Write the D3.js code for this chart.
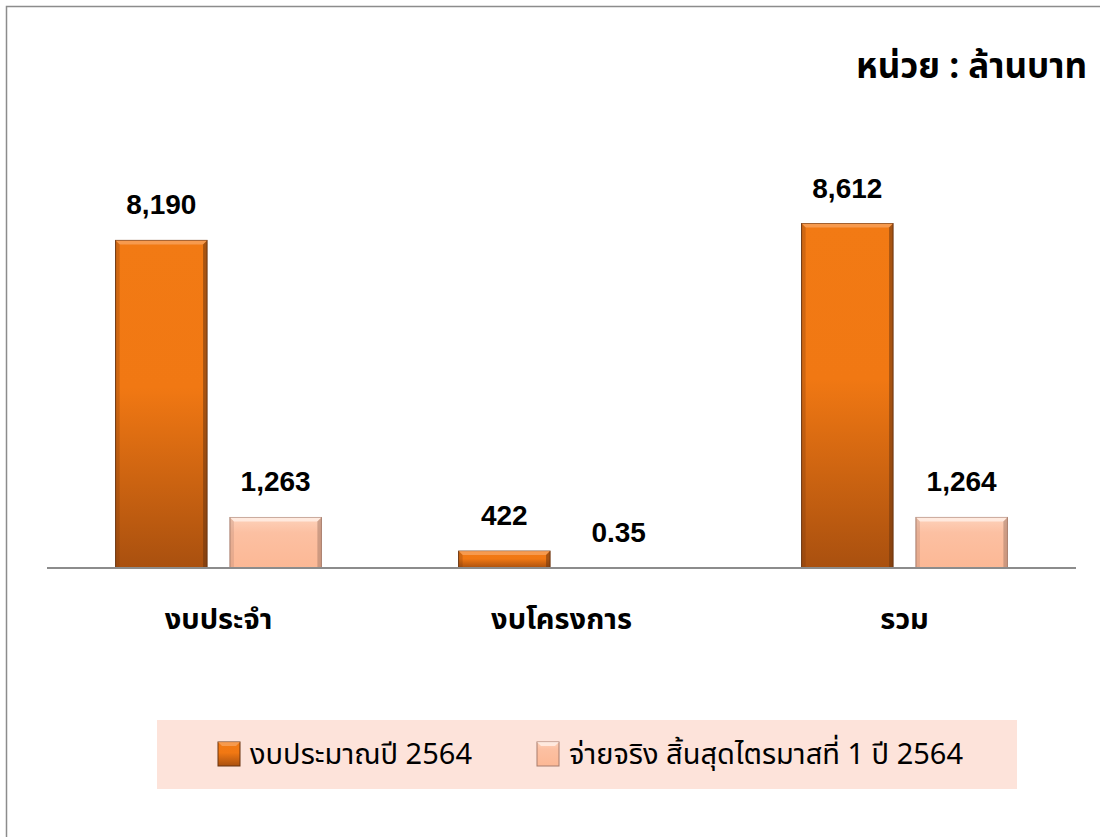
<!DOCTYPE html>
<head>
    <meta charset="utf-8">
    <script src="https://cdn.jsdelivr.net/npm/d3@7"></script>
    <style>
        body { margin: 0; background: white; }
        text { font-family: "Noto Sans Thai", "Liberation Sans", "Noto Sans", sans-serif; }
    </style>
</head>
<body>
<script>

    var categories = ["งบประจำ", "งบโครงการ", "รวม"];
    var seriesNames = ["งบประมาณปี 2564", "จ่ายจริง สิ้นสุดไตรมาสที่ 1 ปี 2564"];
    var budget = [8190, 422, 8612];
    var spent = [1263, 0.35, 1264];
    var valueLabels = [["8,190", "422", "8,612"], ["1,263", "0.35", "1,264"]];
    var unitLabel = "หน่วย : ล้านบาท";

    var svg = d3.select("body").append("svg")
        .attr("width", 1100)
        .attr("height", 837);

    var defs = svg.append("defs");

    // orange bar: bright on top, darker toward the base
    var g1 = defs.append("linearGradient").attr("id", "grad0")
        .attr("x1", 0).attr("y1", 0).attr("x2", 0).attr("y2", 1);
    g1.append("stop").attr("offset", "0%").attr("stop-color", "#f27a14");
    g1.append("stop").attr("offset", "45%").attr("stop-color", "#f17813");
    g1.append("stop").attr("offset", "100%").attr("stop-color", "#a9500f");

    var g2 = defs.append("linearGradient").attr("id", "grad1")
        .attr("x1", 0).attr("y1", 0).attr("x2", 0).attr("y2", 1);
    g2.append("stop").attr("offset", "0%").attr("stop-color", "#fdd2bb");
    g2.append("stop").attr("offset", "30%").attr("stop-color", "#fcc0a2");
    g2.append("stop").attr("offset", "100%").attr("stop-color", "#fcb895");

    var edgeColor = ["#6a3410", "#a87d6c"];
    var topColor = ["#f8a35c", "#fff0e8"];

    // frame
    svg.append("rect")
        .attr("x", 6.5).attr("y", 6.5)
        .attr("width", 1200).attr("height", 1000)
        .attr("fill", "none")
        .attr("stroke", "#8c8c8c")
        .attr("stroke-width", 1.5);

    var x0 = d3.scaleBand().domain(categories).range([47, 1076]);
    var x1 = d3.scaleBand().domain([0, 1]).range([0, x0.bandwidth()])
        .paddingInner(0.2).paddingOuter(0.6);
    var y = d3.scaleLinear().domain([0, 10000]).range([568, 168]);

    var rows = [];
    categories.forEach(function(c, i) {
        rows.push({cat: c, s: 0, v: budget[i], label: valueLabels[0][i]});
        rows.push({cat: c, s: 1, v: spent[i], label: valueLabels[1][i]});
    });

    var bars = svg.selectAll("g.bar").data(rows).enter().append("g")
        .attr("class", "bar")
        .attr("transform", function(d) { return "translate(" + (x0(d.cat) + x1(d.s)) + ",0)"; });

    bars.filter(function(d) { return y(0) - y(d.v) > 1; }).each(function(d) {
        var g = d3.select(this);
        var w = x1.bandwidth();
        var top = y(d.v), h = y(0) - y(d.v);
        var b = Math.min(4, h / 3);
        g.append("rect")
            .attr("x", 0).attr("y", top)
            .attr("width", w).attr("height", h)
            .attr("fill", "url(#grad" + d.s + ")")
            .attr("stroke", edgeColor[d.s])
            .attr("stroke-width", 1);
        // bevel highlight on top, shade on right
        g.append("path")
            .attr("d", "M0," + top + "L" + w + "," + top + "L" + (w - b) + "," + (top + b) + "L" + b + "," + (top + b) + "Z")
            .attr("fill", topColor[d.s]).attr("opacity", 0.8);
        g.append("path")
            .attr("d", "M" + w + "," + top + "L" + w + "," + (top + h) + "L" + (w - b) + "," + (top + h) + "L" + (w - b) + "," + (top + b) + "Z")
            .attr("fill", edgeColor[d.s]).attr("opacity", 0.55);
        g.append("path")
            .attr("d", "M0," + top + "L" + b + "," + (top + b) + "L" + b + "," + (top + h) + "L0," + (top + h) + "Z")
            .attr("fill", edgeColor[d.s]).attr("opacity", 0.25);
    });

    bars.append("text")
        .attr("x", x1.bandwidth() / 2)
        .attr("y", function(d) { return y(d.v) - 26; })
        .attr("text-anchor", "middle")
        .style("font-size", "28px")
        .style("font-weight", "bold")
        .style("font-family", "'Liberation Sans', Arial, sans-serif")
        .text(function(d) { return d.label; });

    // baseline
    svg.append("line")
        .attr("x1", 47).attr("x2", 1076)
        .attr("y1", y(0)).attr("y2", y(0))
        .attr("stroke", "#8c8c8c").attr("stroke-width", 2);

    svg.selectAll("text.cat").data(categories).enter().append("text")
        .attr("class", "cat")
        .attr("x", function(d) { return x0(d) + x0.bandwidth() / 2; })
        .attr("y", 629)
        .attr("text-anchor", "middle")
        .style("font-size", "29px")
        .style("font-weight", "bold")
        .text(function(d) { return d; });

    svg.append("text")
        .attr("x", 1087).attr("y", 78)
        .attr("text-anchor", "end")
        .style("font-size", "35px")
        .style("font-weight", "bold")
        .text(unitLabel);

    // legend
    var legend = svg.append("g");
    legend.append("rect")
        .attr("x", 157).attr("y", 720)
        .attr("width", 860).attr("height", 69)
        .attr("fill", "#fde3da");

    var legX = [218, 537];
    seriesNames.forEach(function(name, i) {
        var lg = legend.append("g").attr("transform", "translate(" + legX[i] + ",742)");
        lg.append("rect")
            .attr("width", 22).attr("height", 24)
            .attr("fill", "url(#grad" + i + ")")
            .attr("stroke", edgeColor[i]).attr("stroke-width", 1);
        lg.append("path")
            .attr("d", "M0,0L22,0L18,4L4,4Z")
            .attr("fill", topColor[i]).attr("opacity", 0.8);
        lg.append("text")
            .attr("x", 32).attr("y", 22)
            .style("font-size", "29px")
            .text(name);
    });

</script>
</body>
